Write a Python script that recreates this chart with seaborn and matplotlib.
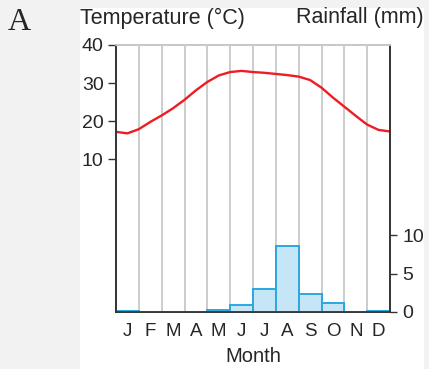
import numpy as np
import pandas as pd
import matplotlib
matplotlib.use("Agg")
import matplotlib.pyplot as plt
import seaborn as sns
from matplotlib.patches import Rectangle

# ---- data ----
month_letters = ["J", "F", "M", "A", "M", "J", "J", "A", "S", "O", "N", "D"]
month_index = list(range(12))
rainfall_mm = [0.1, 0.0, 0.0, 0.0, 0.25, 0.9, 3.0, 8.6, 2.3, 1.15, 0.0, 0.1]
# temperature read every half month, from start of Jan to end of Dec
temp_c = [17.2, 16.8, 17.9, 19.8, 21.5, 23.4, 25.6, 28.1, 30.3, 32.0, 32.9, 33.2,
          32.9, 32.7, 32.4, 32.1, 31.7, 30.8, 28.8, 26.2, 23.8, 21.4, 19.1, 17.7, 17.3]
temp_ticks = [10, 20, 30, 40]
rain_ticks = [0, 5, 10]

sns.set_style("white")
plt.rcParams["font.family"] = ["Liberation Sans", "DejaVu Sans"]

fig = plt.figure(figsize=(4.29, 3.69), dpi=100, facecolor="#f2f2f2")
fig.patches.append(Rectangle((80 / 429, 0), (424 - 80) / 429, (369 - 8) / 369,
                             transform=fig.transFigure, facecolor="white",
                             edgecolor="none", zorder=-10))

ax = fig.add_axes([116 / 429, 57.4 / 369, (390 - 116) / 429, (311.6 - 45) / 369])
ax.set_facecolor("none")
ax2 = ax.twinx()
ax.set_zorder(1)
ax2.set_zorder(2)
ax2.set_facecolor("none")

rain_df = pd.DataFrame({"m": month_index, "rain": rainfall_mm})
sns.barplot(data=rain_df, x="m", y="rain", ax=ax2, color="#c6e6f7",
            edgecolor="#29a8e0", linewidth=1.4, width=1.0, saturation=1)

temp_df = pd.DataFrame({"x": np.arange(len(temp_c)) * 0.5 - 0.5, "t": temp_c})
sns.lineplot(data=temp_df, x="x", y="t", ax=ax, color="#ee1c25", linewidth=1.7)

ax.set_xlim(-0.5, 11.5)
ax.set_ylim(-30, 40)
ax2.set_ylim(0, 35)

ax.set_xticks(month_index)
ax.set_xticklabels(month_letters)
ax.set_xticks(np.arange(0.5, 11.5, 1), minor=True)
ax.grid(which="minor", axis="x", color="#c8c8c8", linewidth=1.3)
ax.tick_params(axis="x", which="both", length=0, labelsize=13.5, pad=8)
ax.set_yticks(temp_ticks)
ax.tick_params(axis="y", length=6, width=1, labelsize=14, pad=3, color="#333333")
ax2.set_yticks(rain_ticks)
ax2.tick_params(axis="y", length=5, width=1, labelsize=14, pad=4, color="#333333")
ax2.tick_params(axis="x", which="both", length=0)

ax.set_xlabel("Month", fontsize=14.5, labelpad=5)
ax.set_ylabel("")
ax2.set_ylabel("")
ax2.set_xlabel("")

for a in (ax, ax2):
    for side in ("left", "right", "bottom"):
        a.spines[side].set_color("#333333")
        a.spines[side].set_linewidth(1.2)
    a.spines["top"].set_color("#c8c8c8")
    a.spines["top"].set_linewidth(1.3)

fig.text(80 / 429, 1 - 18 / 369, "Temperature (°C)", fontsize=15.5,
         ha="left", va="center")
fig.text(424 / 429, 1 - 18 / 369, "Rainfall (mm)", fontsize=15.5,
         ha="right", va="center")
fig.text(8 / 429, 1 - 23 / 369, "A", fontsize=23, ha="left", va="center",
         family=["Liberation Serif", "DejaVu Serif"])

fig.savefig("out.png", dpi=100, facecolor=fig.get_facecolor())
